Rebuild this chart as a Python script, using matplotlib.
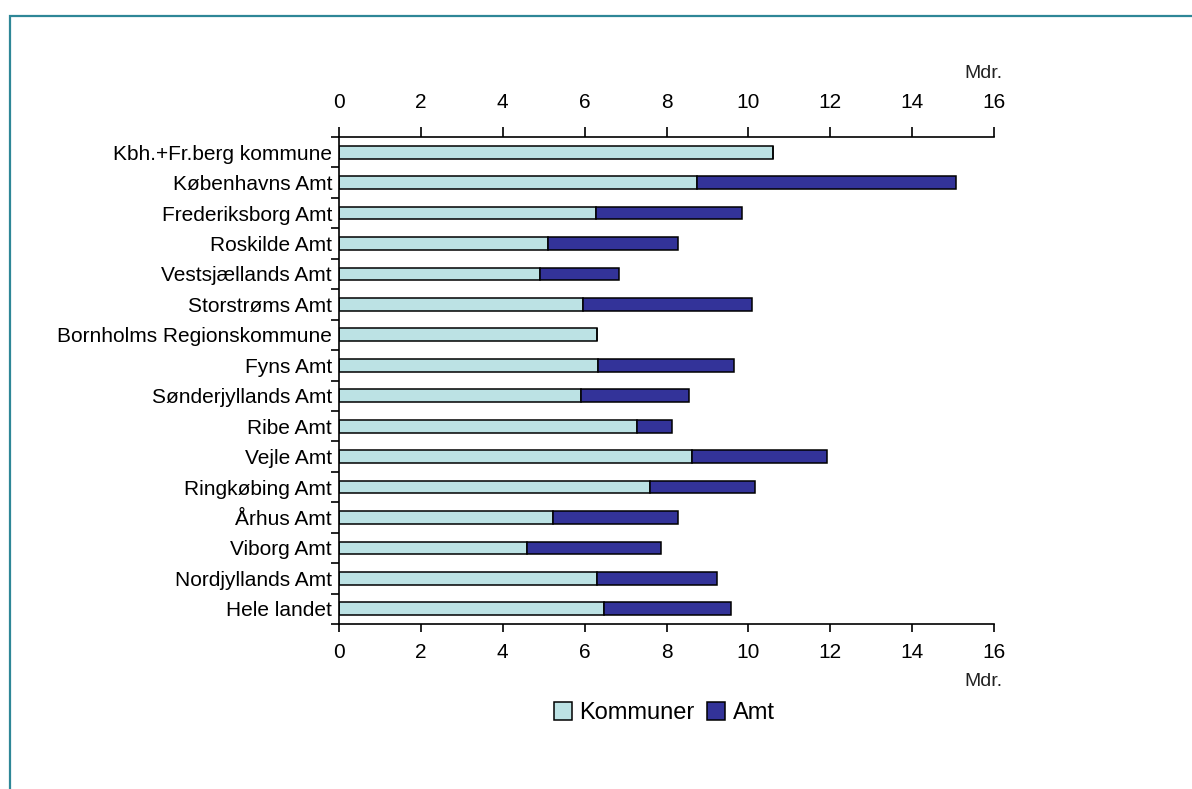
import numpy as np
import matplotlib
matplotlib.use('Agg')
import matplotlib.pyplot as plt
from matplotlib.patches import Rectangle

# data (Mdr.)
regions = ['Kbh.+Fr.berg kommune', 'Københavns Amt', 'Frederiksborg Amt', 'Roskilde Amt',
           'Vestsjællands Amt', 'Storstrøms Amt', 'Bornholms Regionskommune', 'Fyns Amt',
           'Sønderjyllands Amt', 'Ribe Amt', 'Vejle Amt', 'Ringkøbing Amt', 'Århus Amt',
           'Viborg Amt', 'Nordjyllands Amt', 'Hele landet']
kommuner = [10.61, 8.74, 6.29, 5.11, 4.92, 5.95, 6.30, 6.33,
            5.91, 7.28, 8.62, 7.59, 5.22, 4.60, 6.30, 6.48]
total = [10.61, 15.07, 9.85, 8.27, 6.84, 10.08, 6.30, 9.66,
         8.55, 8.13, 11.91, 10.15, 8.28, 7.86, 9.23, 9.57]
amt = [t - k for t, k in zip(total, kommuner)]
xticks = [0, 2, 4, 6, 8, 10, 12, 14, 16]

plt.rcParams['font.family'] = ['Liberation Sans', 'DejaVu Sans']

W, H = 1192, 789
fig = plt.figure(figsize=(W / 100, H / 100), dpi=100)
ax = fig.add_axes([339 / W, 1 - 624 / H, 655 / W, 487 / H])

y = np.arange(len(regions))
ax.barh(y, kommuner, height=0.42, color='#bce2e4', edgecolor='black', linewidth=1.1, label='Kommuner')
ax.barh(y, amt, left=kommuner, height=0.42, color='#333399', edgecolor='black', linewidth=1.1, label='Amt')

ax.set_xlim(0, 16)
ax.set_ylim(len(regions) - 0.5, -0.5)
ax.set_xticks(xticks)
ax.set_yticks(y)
ax.set_yticklabels(regions, fontsize=15)
ax.set_yticks(np.arange(len(regions) + 1) - 0.5, minor=True)
ax.tick_params(axis='y', which='major', length=0, pad=5)
ax.tick_params(axis='y', which='minor', length=6, width=1.2, direction='out')
ax.tick_params(axis='x', which='major', length=6, width=1.2, direction='out', labelsize=15, pad=8)
for s in ['left', 'bottom']:
    ax.spines[s].set_linewidth(1.2)
ax.spines['right'].set_visible(False)
ax.spines['top'].set_visible(False)

# top axis
sec = ax.secondary_xaxis('top')
sec.set_xticks(xticks)
sec.tick_params(axis='x', length=7, width=1.2, direction='out', labelsize=15, pad=11)
sec.spines['top'].set_linewidth(1.2)

fig.text(1002 / W, 1 - 74 / H, 'Mdr.', ha='right', va='center', fontsize=14, color='#222222')
fig.text(1002 / W, 1 - 682 / H, 'Mdr.', ha='right', va='center', fontsize=14, color='#222222')

fig.legend(loc='center', bbox_to_anchor=(664 / W, 1 - 713 / H), ncol=2, frameon=False,
           fontsize=17, handlelength=0.8, handleheight=0.8, handletextpad=0.3,
           columnspacing=0.5)

# teal frame
fig.patches.append(Rectangle((10 / W, -0.05), 1.1, 1 - 16 / H + 0.05, transform=fig.transFigure,
                             fill=False, edgecolor='#2e8797', linewidth=1.6, clip_on=False))

fig.savefig('out.png', dpi=100)
